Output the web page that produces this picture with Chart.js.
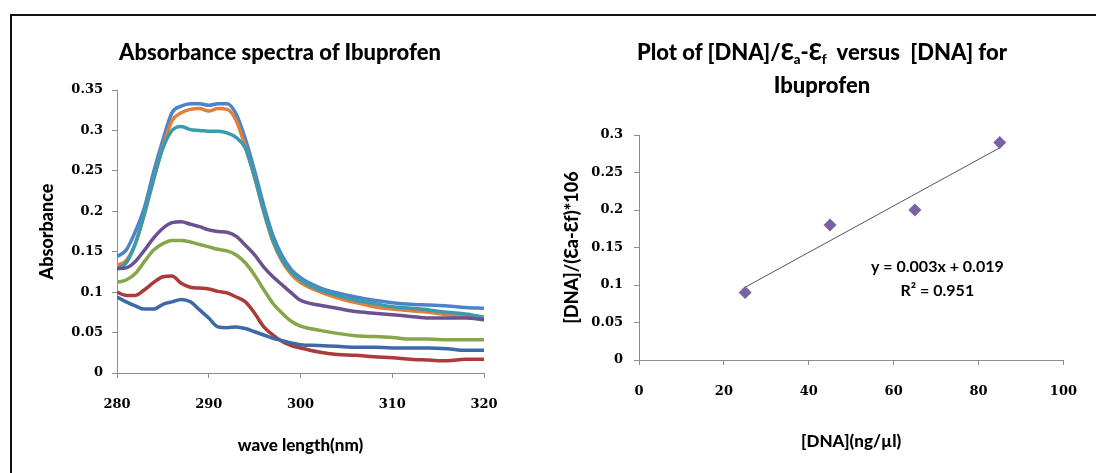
<!DOCTYPE html>
<html lang="en">
<head>
    <meta charset="UTF-8">
    <title>Ibuprofen - absorbance spectra and DNA plot</title>
    <script src="https://cdn.jsdelivr.net/npm/chart.js@4.4.0/dist/chart.umd.min.js"></script>
    <style>
        html, body { margin: 0; padding: 0; background: #fff; }
        body { width: 1096px; height: 473px; position: relative; overflow: hidden; font-family: Lato, sans-serif; }
        .frame { position: absolute; left: 10px; top: 14px; width: 1100px; height: 470px;
                 border-left: 2px solid #111; border-top: 2px solid #111; }
        #left { position: absolute; left: 12px; top: 16px; }
        #right { position: absolute; left: 552px; top: 16px; }
        .ttl { position: absolute; top: 35px; text-align: center;
               font: 900 22px Lato, sans-serif; line-height: 33px; color: #000; }
        .ttl sub { font-size: 0.6em; line-height: 0; vertical-align: -0.3em; }
        #title1 { left: 12px; width: 536px; }
        #title2 { left: 552px; width: 540px; }
    </style>
</head>
<body>
    <div class="frame"></div>
    <canvas id="left" width="520" height="457"></canvas>
    <canvas id="right" width="544" height="457"></canvas>
    <div class="ttl" id="title1">Absorbance spectra of Ibuprofen</div>
    <div class="ttl" id="title2">Plot of [DNA]/Ɛ<sub>a</sub>-Ɛ<sub>f</sub>&nbsp; versus &nbsp;[DNA] for<br>Ibuprofen</div>

    <script>
        // spectra (absorbance vs wavelength, nm)
        var wavelengths = [280, 281, 282, 283, 284, 285, 286, 287, 288, 289, 290, 291, 292, 293, 294, 295, 296, 297, 298, 299, 300,
                           302, 304, 306, 308, 310, 312, 314, 316, 318, 320];
        var lightBlue = [0.144, 0.152, 0.175, 0.205, 0.249, 0.288, 0.322, 0.330, 0.333, 0.333, 0.331, 0.333, 0.333, 0.320, 0.289, 0.250, 0.207, 0.170, 0.145, 0.128, 0.118,
                         0.106, 0.099, 0.094, 0.090, 0.087, 0.085, 0.084, 0.083, 0.081, 0.080];
        var orange    = [0.133, 0.139, 0.160, 0.197, 0.240, 0.280, 0.312, 0.322, 0.326, 0.327, 0.324, 0.327, 0.326, 0.312, 0.279, 0.242, 0.199, 0.162, 0.138, 0.122, 0.112,
                         0.101, 0.093, 0.087, 0.082, 0.079, 0.077, 0.075, 0.072, 0.070, 0.067];
        var teal      = [0.129, 0.136, 0.160, 0.198, 0.240, 0.278, 0.300, 0.305, 0.301, 0.300, 0.299, 0.299, 0.297, 0.291, 0.278, 0.242, 0.200, 0.164, 0.140, 0.125, 0.115,
                         0.103, 0.096, 0.090, 0.086, 0.082, 0.080, 0.078, 0.075, 0.073, 0.069];
        var purple    = [0.129, 0.130, 0.138, 0.152, 0.167, 0.179, 0.186, 0.187, 0.184, 0.181, 0.177, 0.175, 0.174, 0.169, 0.158, 0.146, 0.131, 0.119, 0.109, 0.099, 0.090,
                         0.084, 0.080, 0.076, 0.074, 0.072, 0.070, 0.068, 0.068, 0.068, 0.066];
        var green     = [0.112, 0.115, 0.123, 0.138, 0.152, 0.160, 0.164, 0.164, 0.162, 0.159, 0.156, 0.153, 0.151, 0.146, 0.136, 0.121, 0.103, 0.086, 0.074, 0.064, 0.058,
                         0.053, 0.049, 0.046, 0.045, 0.044, 0.042, 0.042, 0.041, 0.041, 0.041];
        var red       = [0.100, 0.096, 0.096, 0.103, 0.112, 0.119, 0.120, 0.111, 0.106, 0.105, 0.104, 0.101, 0.099, 0.094, 0.088, 0.074, 0.057, 0.047, 0.039, 0.034, 0.031,
                         0.026, 0.023, 0.022, 0.020, 0.019, 0.017, 0.016, 0.015, 0.017, 0.017];
        var darkBlue  = [0.094, 0.088, 0.083, 0.079, 0.079, 0.085, 0.088, 0.091, 0.088, 0.078, 0.068, 0.057, 0.056, 0.057, 0.055, 0.051, 0.047, 0.043, 0.040, 0.037, 0.035,
                         0.034, 0.033, 0.032, 0.032, 0.031, 0.031, 0.031, 0.030, 0.028, 0.028];
        var absTicks = [0, 0.05, 0.1, 0.15, 0.2, 0.25, 0.3, 0.35];
        var waveTicks = [280, 290, 300, 310, 320];

        // [DNA] plot
        var dnaConc = [25, 45, 65, 85];
        var dnaRatio = [0.09, 0.18, 0.20, 0.29];
        var ratioTicks = [0, 0.05, 0.1, 0.15, 0.2, 0.25, 0.3];
        var concTicks = [0, 20, 40, 60, 80, 100];
        var eqText = ['y = 0.003x + 0.019', 'R² = 0.951'];

        var tickFont = { family: 'DejaVu Serif', size: 13, weight: 'bold' };
        var axisGray = '#8c8c8c';

        function pairs(xs, ys) {
            return xs.map(function (x, i) { return { x: x, y: ys[i] }; });
        }

        function plainLabel(v) {
            return String(Number(v.toFixed(4)));
        }

        function spectrum(data, color) {
            return {
                data: pairs(wavelengths, data),
                borderColor: color,
                borderWidth: 3.5,
                pointRadius: 0,
                fill: false,
                cubicInterpolationMode: 'monotone'
            };
        }

        // left chart
        new Chart(document.getElementById('left'), {
            type: 'line',
            data: {
                datasets: [
                    spectrum(darkBlue, '#3d6aa6'),
                    spectrum(red, '#ab3b39'),
                    spectrum(green, '#87a64a'),
                    spectrum(purple, '#6c5192'),
                    spectrum(teal, '#3b9bae'),
                    spectrum(orange, '#e27f39'),
                    spectrum(lightBlue, '#4a84cb')
                ]
            },
            options: {
                responsive: false,
                animation: false,
                layout: { padding: { left: 21, right: 48, top: 74, bottom: 0 } },
                plugins: {
                    legend: { display: false },
                    tooltip: { enabled: false }
                },
                scales: {
                    x: {
                        type: 'linear',
                        min: 280, max: 320,
                        afterBuildTicks: function (s) { s.ticks = waveTicks.map(function (v) { return { value: v }; }); },
                        afterFit: function (s) { s.height = 100; },
                        grid: { drawOnChartArea: false, color: axisGray, tickLength: 5 },
                        border: { color: axisGray },
                        ticks: { color: '#000', font: tickFont, padding: 19, maxRotation: 0 },
                        title: { display: true, text: 'wave length(nm)', color: '#000',
                                 font: { family: 'Lato', size: 17, weight: '900' }, padding: 17 }
                    },
                    y: {
                        min: 0, max: 0.35,
                        afterBuildTicks: function (s) { s.ticks = absTicks.map(function (v) { return { value: v }; }); },
                        afterFit: function (s) { s.width = 84; },
                        grid: { drawOnChartArea: false, color: axisGray, tickLength: 5 },
                        border: { color: axisGray },
                        ticks: { color: '#000', font: tickFont, padding: 9, callback: plainLabel },
                        title: { display: true, text: 'Absorbance', color: '#000',
                                 font: { family: 'Lato', size: 18, weight: '900' }, padding: 3 }
                    }
                }
            }
        });

        // least squares trendline for the [DNA] points
        var n = dnaConc.length;
        var mx = dnaConc.reduce(function (a, b) { return a + b; }, 0) / n;
        var my = dnaRatio.reduce(function (a, b) { return a + b; }, 0) / n;
        var sxy = 0, sxx = 0;
        for (var i = 0; i < n; i++) {
            sxy += (dnaConc[i] - mx) * (dnaRatio[i] - my);
            sxx += (dnaConc[i] - mx) * (dnaConc[i] - mx);
        }
        var slope = sxy / sxx;
        var icept = my - slope * mx;
        var xFirst = dnaConc[0], xLast = dnaConc[n - 1];

        var equationLabel = {
            id: 'equationLabel',
            afterDatasetsDraw: function (chart) {
                var ctx = chart.ctx;
                var sx = chart.scales.x, sy = chart.scales.y;
                ctx.save();
                ctx.fillStyle = '#000';
                ctx.font = 'bold 16px Lato';
                ctx.textAlign = 'center';
                ctx.textBaseline = 'middle';
                ctx.fillText(eqText[0], sx.getPixelForValue(70.3), sy.getPixelForValue(0.124));
                ctx.fillText(eqText[1], sx.getPixelForValue(70.3), sy.getPixelForValue(0.092));
                ctx.restore();
            }
        };

        // right chart
        new Chart(document.getElementById('right'), {
            type: 'scatter',
            data: {
                datasets: [
                    {
                        data: pairs(dnaConc, dnaRatio),
                        pointStyle: 'rectRot',
                        pointRadius: 6.5,
                        backgroundColor: '#7b62a2',
                        borderColor: '#7b62a2',
                        borderWidth: 0
                    },
                    {
                        type: 'line',
                        data: [{ x: xFirst, y: icept + slope * xFirst }, { x: xLast, y: icept + slope * xLast }],
                        borderColor: '#555',
                        borderWidth: 1,
                        pointRadius: 0,
                        fill: false
                    }
                ]
            },
            options: {
                responsive: false,
                animation: false,
                layout: { padding: { left: 6, right: 27, top: 119, bottom: 0 } },
                plugins: {
                    legend: { display: false },
                    tooltip: { enabled: false }
                },
                scales: {
                    x: {
                        type: 'linear',
                        min: 0, max: 100,
                        afterBuildTicks: function (s) { s.ticks = concTicks.map(function (v) { return { value: v }; }); },
                        afterFit: function (s) { s.height = 113; },
                        grid: { drawOnChartArea: false, color: axisGray, tickLength: 5 },
                        border: { color: axisGray },
                        ticks: { color: '#000', font: tickFont, padding: 19, maxRotation: 0 },
                        title: { display: true, text: '[DNA](ng/µl)', color: '#000',
                                 font: { family: 'Lato', size: 17, weight: '900' }, padding: 21 }
                    },
                    y: {
                        min: 0, max: 0.3,
                        afterBuildTicks: function (s) { s.ticks = ratioTicks.map(function (v) { return { value: v }; }); },
                        afterFit: function (s) { s.width = 81; },
                        grid: { drawOnChartArea: false, color: axisGray, tickLength: 5 },
                        border: { color: axisGray },
                        ticks: { color: '#000', font: tickFont, padding: 11, callback: plainLabel },
                        title: { display: true, text: '[DNA]/(Ɛa-Ɛf)*106', color: '#000',
                                 font: { family: 'Lato', size: 18, weight: '900' }, padding: 3 }
                    }
                }
            },
            plugins: [equationLabel]
        });
    </script>
</body>
</html>
